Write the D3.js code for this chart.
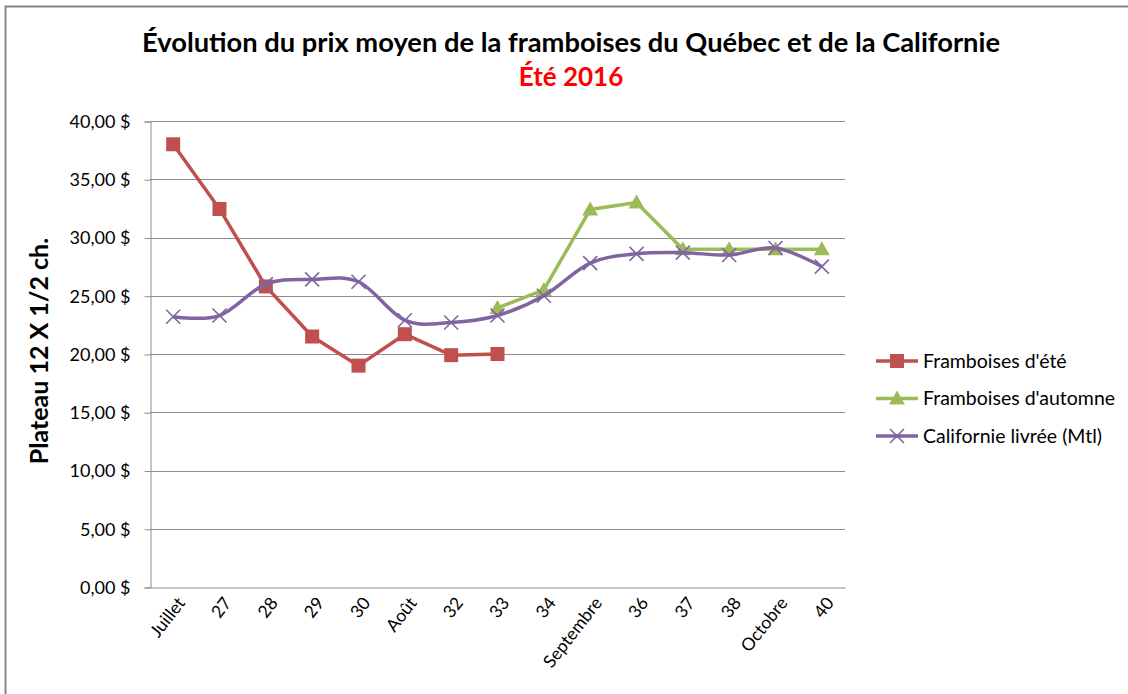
<!DOCTYPE html>
<html>
<head>
<meta charset="utf-8">
<script src="https://d3js.org/d3.v7.min.js"></script>
<style>
	body{ margin:0; background:#fff;}
	text{ font-family: Lato, "Open Sans", sans-serif; fill:#000;}
</style>
</head>
<body>
<script>

var weeks = ["Juillet","27","28","29","30","Août","32","33","34","Septembre","36","37","38","Octobre","40"];

var ete = [38.0, 32.45, 25.8, 21.5, 19.0, 21.7, 19.9, 20.0, null, null, null, null, null, null, null];
var automne = [null, null, null, null, null, null, null, 23.95, 25.5, 32.4, 33.0, 29.0, 29.0, 29.0, 29.0];
var californie = [23.2, 23.3, 26.0, 26.4, 26.2, 22.9, 22.7, 23.3, 25.0, 27.8, 28.6, 28.7, 28.5, 29.1, 27.5];

var yTicks = [0, 5, 10, 15, 20, 25, 30, 35, 40];

var width = 1128,
	height = 694;

var margin = {left:150, right:283, top:121, bottom:107};

var svg = d3.select("body")
	.append("svg")
	.attr("width", width)
	.attr("height", height);

// chart frame (only top/left edges visible in picture)
svg.append("rect")
	.attr("x", 5.5).attr("y", 6.5)
	.attr("width", 1200).attr("height", 800)
	.attr("fill", "none")
	.attr("stroke", "#868686")
	.attr("stroke-width", 2);

var x = d3.scaleBand()
	.domain(weeks)
	.range([margin.left, width - margin.right]);

var y = d3.scaleLinear()
	.domain([0, 40])
	.range([height - margin.bottom, margin.top]);

var fmt = function(d){ return d3.format(".2f")(d).replace(".", ",") + " $"; };

// gridlines
svg.append("g")
	.selectAll("line")
	.data(yTicks.slice(1))
	.enter().append("line")
	.attr("x1", margin.left).attr("x2", width - margin.right)
	.attr("y1", function(d){ return Math.round(y(d)) + 0.5; })
	.attr("y2", function(d){ return Math.round(y(d)) + 0.5; })
	.attr("stroke", "#8c8c8c");

// y axis
var yAxis = svg.append("g")
	.attr("transform", "translate(" + (margin.left + 0.5) + ",0.5)")
	.call(d3.axisLeft(y).tickValues(yTicks).tickFormat(fmt).tickSize(6).tickPadding(14));
yAxis.select(".domain").attr("stroke", "#8c8c8c");
yAxis.selectAll(".tick line").attr("stroke", "#8c8c8c");
yAxis.selectAll("text")
	.style("font-size", "18px")
	.style("font-family", "Lato, sans-serif")
	.attr("fill", "#000");

// x axis
var xAxis = svg.append("g")
	.attr("transform", "translate(0," + (Math.round(y(0)) + 0.5) + ")")
	.call(d3.axisBottom(x).tickSize(0).tickPadding(0));
xAxis.select(".domain").attr("stroke", "#8c8c8c");
xAxis.selectAll("text")
	.style("font-size", "17.5px")
	.style("font-family", "Lato, sans-serif")
	.attr("fill", "#000")
	.attr("text-anchor", "end")
	.attr("y", 0)
	.attr("dy", "0.35em")
	.attr("transform", "translate(8,12) rotate(-52)");

// titles
svg.append("text")
	.attr("x", 571).attr("y", 52)
	.attr("text-anchor", "middle")
	.style("font-size", "27.3px").style("font-weight", "bold")
	.text("Évolution du prix moyen de la framboises du Québec et de la Californie");
svg.append("text")
	.attr("x", 571).attr("y", 86)
	.attr("text-anchor", "middle")
	.style("font-size", "26px").style("font-weight", "bold")
	.style("fill", "#ff0000")
	.text("Été 2016");

svg.append("text")
	.attr("transform", "translate(48,351) rotate(-90)")
	.attr("text-anchor", "middle")
	.style("font-size", "25px").style("font-weight", "bold")
	.text("Plateau 12 X 1/2 ch.");

var cx = function(d, i){ return x(weeks[i]) + x.bandwidth() / 2; };

var series = [
	{name:"Framboises d'été", values:ete, color:"#c0504d", marker:"square", curve:d3.curveLinear},
	{name:"Framboises d'automne", values:automne, color:"#9bbb59", marker:"triangle", curve:d3.curveLinear},
	{name:"Californie livrée (Mtl)", values:californie, color:"#8064a2", marker:"cross", curve:d3.curveCatmullRom.alpha(0)}
];

function drawMarker(g, type, color){
	if(type == "square"){
		g.append("rect").attr("x", -7).attr("y", -7).attr("width", 14).attr("height", 14)
			.attr("fill", color);
	} else if(type == "triangle"){
		g.append("path").attr("d", "M0,-8L8,6L-8,6Z").attr("fill", color);
	} else {
		g.append("path").attr("d", "M-7,-7L7,7M-7,7L7,-7")
			.attr("stroke", color).attr("stroke-width", 1.6).attr("fill", "none");
	}
}

series.forEach(function(s){
	var line = d3.line()
		.defined(function(d){ return d != null; })
		.x(cx)
		.y(function(d){ return y(d); })
		.curve(s.curve);

	svg.append("path")
		.datum(s.values)
		.attr("d", line)
		.attr("fill", "none")
		.attr("stroke", s.color)
		.attr("stroke-width", 3.5)
		.attr("stroke-linejoin", "round");

	s.values.forEach(function(v, i){
		if(v == null) return;
		var g = svg.append("g").attr("transform", "translate(" + cx(v, i) + "," + y(v) + ")");
		drawMarker(g, s.marker, s.color);
	});
});

// legend
var legend = svg.append("g");
series.forEach(function(s, i){
	var ly = 361 + i * 37.5;
	legend.append("line")
		.attr("x1", 876).attr("x2", 918)
		.attr("y1", ly).attr("y2", ly)
		.attr("stroke", s.color).attr("stroke-width", 3.5);
	var g = legend.append("g").attr("transform", "translate(897," + ly + ")");
	drawMarker(g, s.marker, s.color);
	legend.append("text")
		.attr("x", 923).attr("y", ly)
		.attr("dy", "0.35em")
		.style("font-size", "19.5px")
		.text(s.name);
});

</script>
</body>
</html>
